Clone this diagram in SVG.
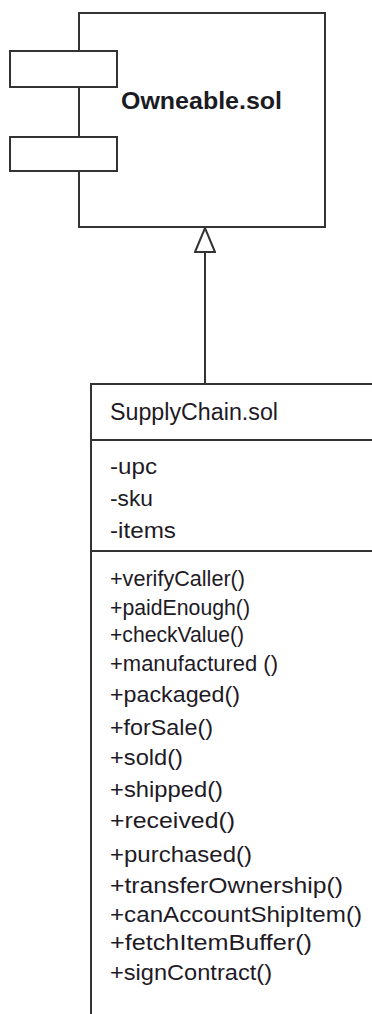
<svg xmlns="http://www.w3.org/2000/svg" width="372" height="1014" viewBox="0 0 372 1014">
  <style>
    .box { fill: #ffffff; stroke: #333333; stroke-width: 2; }
    .sep { stroke: #333333; stroke-width: 2; }
    .edge { fill: none; stroke: #333333; stroke-width: 2; }
    .title { font-family: "Liberation Sans", Arial, sans-serif; font-weight: bold; font-size: 24px; fill: #1b1b24; }
    .name { font-family: "Liberation Sans", Arial, sans-serif; font-size: 23px; fill: #1e1a26; }
    .member { font-family: "Liberation Sans", Arial, sans-serif; font-size: 22px; fill: #1e1a26; }
  </style>
  <defs>
    <marker id="inherit" viewBox="0 0 26 22" refX="25" refY="11" markerWidth="26" markerHeight="22" markerUnits="userSpaceOnUse" orient="auto">
      <path d="M1,1 L25,11 L1,21 Z" fill="#ffffff" stroke="#333333" stroke-width="2" stroke-linejoin="miter"/>
    </marker>
  </defs>
  <rect width="372" height="1014" fill="#ffffff"/>

  <!-- component: Owneable.sol -->
  <g id="owneable">
    <rect class="box" x="79" y="13" width="246" height="214"/>
    <rect class="box" x="10" y="51" width="107" height="36"/>
    <rect class="box" x="10" y="137" width="107" height="34"/>
    <text class="title" x="121" y="109" textLength="161" lengthAdjust="spacingAndGlyphs">Owneable.sol</text>
  </g>

  <!-- class: SupplyChain.sol -->
  <g id="supplychain">
    <rect class="box" x="91" y="384" width="300" height="700"/>
    <line class="sep" x1="91" y1="440" x2="372" y2="440"/>
    <line class="sep" x1="91" y1="551" x2="372" y2="551"/>
    <text class="name" x="110" y="420" textLength="168" lengthAdjust="spacingAndGlyphs">SupplyChain.sol</text>
    <text class="member" x="110" y="474" textLength="47" lengthAdjust="spacingAndGlyphs">-upc</text>
    <text class="member" x="110" y="506" textLength="43" lengthAdjust="spacingAndGlyphs">-sku</text>
    <text class="member" x="110" y="538" textLength="66" lengthAdjust="spacingAndGlyphs">-items</text>
    <text class="member" x="110" y="586" textLength="135" lengthAdjust="spacingAndGlyphs">+verifyCaller()</text>
    <text class="member" x="110" y="615" textLength="140" lengthAdjust="spacingAndGlyphs">+paidEnough()</text>
    <text class="member" x="110" y="642" textLength="134" lengthAdjust="spacingAndGlyphs">+checkValue()</text>
    <text class="member" x="110" y="671" textLength="168" lengthAdjust="spacingAndGlyphs">+manufactured ()</text>
    <text class="member" x="110" y="702" textLength="130" lengthAdjust="spacingAndGlyphs">+packaged()</text>
    <text class="member" x="110" y="735" textLength="103" lengthAdjust="spacingAndGlyphs">+forSale()</text>
    <text class="member" x="110" y="765" textLength="73" lengthAdjust="spacingAndGlyphs">+sold()</text>
    <text class="member" x="110" y="797" textLength="113" lengthAdjust="spacingAndGlyphs">+shipped()</text>
    <text class="member" x="110" y="828" textLength="125" lengthAdjust="spacingAndGlyphs">+received()</text>
    <text class="member" x="110" y="862" textLength="142" lengthAdjust="spacingAndGlyphs">+purchased()</text>
    <text class="member" x="110" y="893" textLength="233" lengthAdjust="spacingAndGlyphs">+transferOwnership()</text>
    <text class="member" x="110" y="922" textLength="252" lengthAdjust="spacingAndGlyphs">+canAccountShipItem()</text>
    <text class="member" x="110" y="950" textLength="202" lengthAdjust="spacingAndGlyphs">+fetchItemBuffer()</text>
    <text class="member" x="110" y="980" textLength="162" lengthAdjust="spacingAndGlyphs">+signContract()</text>
  </g>

  <!-- generalization: SupplyChain.sol inherits Owneable.sol -->
  <g id="connectors">
    <path class="edge" d="M205,384 L205,228" marker-end="url(#inherit)"/>
  </g>
</svg>
